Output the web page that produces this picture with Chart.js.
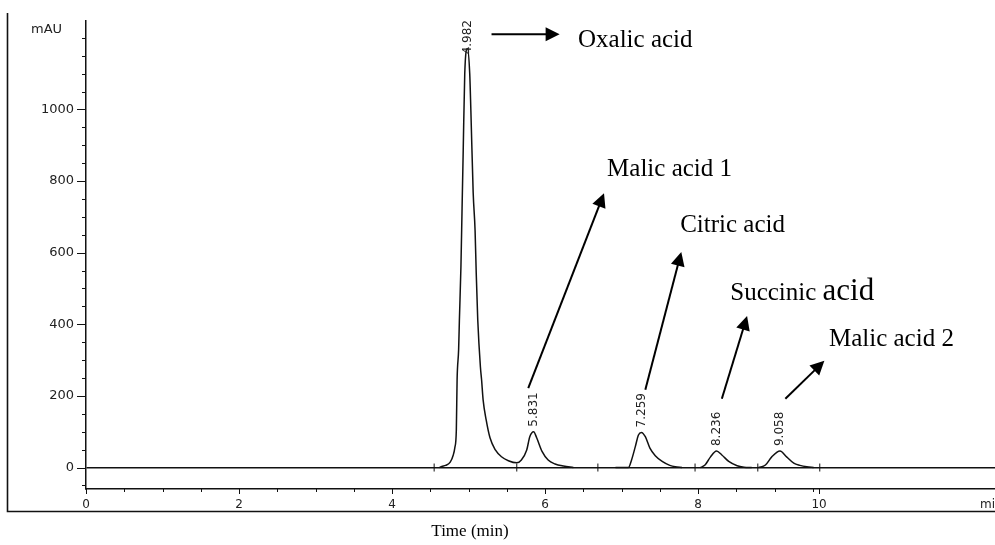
<!DOCTYPE html>
<html><head><meta charset="utf-8">
<script src="https://cdn.jsdelivr.net/npm/chart.js@4/dist/chart.umd.min.js"></script>
<style>html,body{margin:0;padding:0;background:#fff;}#wrap{width:995px;height:545px;position:relative;}</style>
</head><body><div id="wrap"><canvas id="c" width="995" height="545"></canvas></div>
<script>
// Chromatogram trace (time in min, signal in mAU); null = trace not drawn
const traceTime = [4.62,4.65,4.70,4.76,4.80,4.82,4.84,4.85,4.87,4.88,4.90,4.915,4.93,4.95,4.985,5.015,5.03,5.06,5.085,5.10,5.12,5.155,5.17,5.19,5.23,5.28,5.35,5.43,5.52,5.63,5.69,5.76,5.80,5.85,5.89,5.96,6.04,6.13,6.24,6.37,
  6.6,
  6.92,7.09,7.13,7.18,7.22,7.26,7.31,7.37,7.44,7.53,7.63,7.70,7.79,
  7.9,
  8.03,8.09,8.16,8.24,8.31,8.40,8.51,8.60,8.70,
  8.75,
  8.79,8.88,8.96,9.07,9.16,9.25,9.33,9.42,9.51];
const traceSignal = [0,3,6,15,35,55,105,245,330,412,560,724,886,1100,1170,1100,997,768,662,543,412,280,245,189,133,83,49,30,19,13,21,49,86,100,83,45,21,10,4,0,
  null,
  0,0,21,59,91,98,86,54,33,17,6,2,0,
  null,
  0,7,29,46,35,17,5,1,0,
  null,
  0,7,29,46,29,12,6,2,0];
// integration event marks on the baseline
const eventTimes = [4.55,5.63,6.69,7.96,8.78,9.59];
const eventSignal = [0,0,0,0,0,0];
// peak retention-time labels
const peakLabels = ['4.982','5.831','7.259','8.236','9.058'];
const peakApexTime = [4.985,5.85,7.26,8.24,9.07];
const peakApexSignal = [1170,100,98,46,46];
// compound annotations
const compoundNames = ['Oxalic acid','Malic acid 1','Citric acid','Succinic','Malic acid 2'];
const arrowFromTime = [5.30,5.78,7.31,8.31,9.14];
const arrowFromSignal = [1210,222,217,192,192];
const arrowToTime = [6.19,6.77,7.78,8.64,9.65];
const arrowToSignal = [1210,766,602,423,298];
const nameTime = [6.43,6.81,7.765,8.42,9.71];
const nameSignal = [1175,814,657,468,340];
// axis ticks
const xTickValues = [0,0.5,1,1.5,2,2.5,3,3.5,4,4.5,5,5.5,6,6.5,7,7.5,8,8.5,9,9.5,9.58];
const xTickLabels = ['0','','','','2','','','','4','','','','6','','','','8','','','','10'];
const yTickValues = [-50,0,50,100,150,200,250,300,350,400,450,500,550,600,650,700,750,800,850,900,950,1000,1050,1100,1150,1200];
const yTickLabels = ['','0','','','','200','','','','400','','','','600','','','','800','','','','1000','','','',''];

const tracePoints = traceTime.map((t,i)=>({x:t,y:traceSignal[i]}));
const eventPoints = eventTimes.map((t,i)=>({x:t,y:eventSignal[i]}));

const decor = {
  id:'decor',
  afterDraw(chart){
    const ctx = chart.ctx, xs = chart.scales.x, ys = chart.scales.y, ca = chart.chartArea;
    ctx.save();
    ctx.strokeStyle = '#111'; ctx.lineWidth = 1;
    // y ticks
    yTickValues.forEach((v,i)=>{
      const py = Math.round(ys.getPixelForValue(v))+0.5;
      const len = yTickLabels[i] !== '' ? 9 : 4;
      ctx.beginPath(); ctx.moveTo(ca.left-len, py); ctx.lineTo(ca.left, py); ctx.stroke();
    });
    // x ticks
    xTickValues.forEach((v,i)=>{
      const px = Math.round(xs.getPixelForValue(v))+0.5;
      const len = xTickLabels[i] !== '' ? 5 : 3;
      ctx.beginPath(); ctx.moveTo(px, ca.bottom); ctx.lineTo(px, ca.bottom+len); ctx.stroke();
    });
    // outer frame
    ctx.lineWidth = 1.6;
    ctx.beginPath(); ctx.moveTo(7.5, 13); ctx.lineTo(7.5, 511.5); ctx.lineTo(995, 511.5); ctx.stroke();
    // mAU and min
    ctx.fillStyle = '#222';
    ctx.font = '13px "DejaVu Sans"';
    ctx.textBaseline = 'middle'; ctx.textAlign = 'left';
    ctx.fillText('mAU', 31, 30);
    ctx.font = '12px "DejaVu Sans"';
    ctx.fillText('min', ca.right-15, 505);
    // Time (min)
    ctx.fillStyle = '#000';
    ctx.font = '17px "Liberation Serif"';
    ctx.textAlign = 'center';
    ctx.fillText('Time (min)', 470, 532);
    // peak labels (rotated)
    ctx.font = '12px "DejaVu Sans"';
    ctx.fillStyle = '#222';
    peakLabels.forEach((lab,i)=>{
      const px = xs.getPixelForValue(peakApexTime[i]);
      const py = ys.getPixelForValue(peakApexSignal[i]);
      const w = ctx.measureText(lab).width;
      let bottom = py - 5;
      if (bottom - w < ca.top - 1) bottom = ca.top - 1 + w;
      ctx.save();
      ctx.translate(px, bottom);
      ctx.rotate(-Math.PI/2);
      ctx.textAlign = 'left'; ctx.textBaseline = 'middle';
      ctx.fillText(lab, 0, 0);
      ctx.restore();
    });
    // arrows
    ctx.strokeStyle = '#000'; ctx.fillStyle = '#000'; ctx.lineWidth = 2;
    arrowFromTime.forEach((t,i)=>{
      const x0 = xs.getPixelForValue(t), y0 = ys.getPixelForValue(arrowFromSignal[i]);
      const x1 = xs.getPixelForValue(arrowToTime[i]), y1 = ys.getPixelForValue(arrowToSignal[i]);
      const ang = Math.atan2(y1-y0, x1-x0);
      const hl = 14, hw = 7;
      const bx = x1 - hl*Math.cos(ang), by = y1 - hl*Math.sin(ang);
      ctx.beginPath(); ctx.moveTo(x0,y0); ctx.lineTo(bx+Math.cos(ang), by+Math.sin(ang)); ctx.stroke();
      ctx.beginPath();
      ctx.moveTo(x1,y1);
      ctx.lineTo(bx + hw*Math.sin(ang), by - hw*Math.cos(ang));
      ctx.lineTo(bx - hw*Math.sin(ang), by + hw*Math.cos(ang));
      ctx.closePath(); ctx.fill();
    });
    // compound names
    ctx.textAlign = 'left'; ctx.textBaseline = 'alphabetic';
    compoundNames.forEach((n,i)=>{
      const px = xs.getPixelForValue(nameTime[i]);
      const py = ys.getPixelForValue(nameSignal[i]);
      ctx.font = '25px "Liberation Serif"';
      ctx.fillText(n, px, py);
      if (n === 'Succinic') {
        const w = ctx.measureText(n + ' ').width;
        ctx.font = '31px "Liberation Serif"';
        ctx.fillText('acid', px + w, py);
      }
    });
    ctx.restore();
  }
};

new Chart(document.getElementById('c'), {
  type:'line',
  data:{datasets:[
    {data:tracePoints, borderColor:'#111', borderWidth:1.5, pointRadius:0, spanGaps:false, cubicInterpolationMode:'monotone', fill:false},
    {type:'scatter', data:eventPoints, pointStyle:'line', rotation:90, radius:4, borderColor:'#111', borderWidth:1}
  ]},
  options:{
    responsive:false, animation:false, devicePixelRatio:1,
    layout:{autoPadding:false, padding:{left:0,right:0,top:21,bottom:0}},
    plugins:{legend:{display:false}, tooltip:{enabled:false}},
    scales:{
      x:{type:'linear', min:0, max:11.88,
        afterFit:s=>{s.height=56;},
        afterBuildTicks:s=>{s.ticks = xTickValues.map(v=>({value:v}));},
        ticks:{autoSkip:false, maxRotation:0, minRotation:0, padding:9, color:'#222',
          font:{family:'DejaVu Sans', size:12},
          callback:(v,i)=>xTickLabels[i]},
        grid:{drawOnChartArea:false, drawTicks:false},
        border:{color:'#111', width:1.5}},
      y:{type:'linear', min:-60, max:1247,
        afterFit:s=>{s.width=86;},
        afterBuildTicks:s=>{s.ticks = yTickValues.map(v=>({value:v}));},
        ticks:{autoSkip:false, padding:12, color:'#222',
          font:{family:'DejaVu Sans', size:13},
          callback:(v,i)=>yTickLabels[i]},
        grid:{drawTicks:false, lineWidth:1.5, color:c=> (c.tick && c.tick.value===0) ? '#111' : 'rgba(0,0,0,0)'},
        border:{color:'#111', width:1.5}}
    }
  },
  plugins:[decor]
});
</script></body></html>
